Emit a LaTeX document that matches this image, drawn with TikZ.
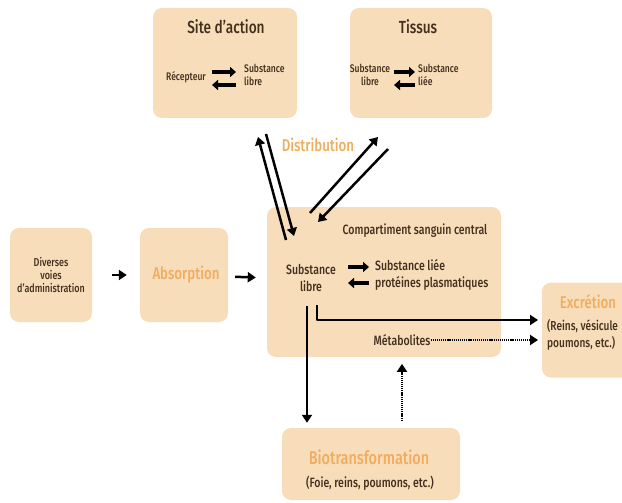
\documentclass[tikz,border=0pt]{standalone}
\usepackage{fontspec}
\setmainfont{Fira Sans Medium}[FakeStretch=0.78]
\usetikzlibrary{arrows.meta}
\definecolor{peche}{RGB}{248,221,187}
\definecolor{ocre}{RGB}{240,172,95}
\definecolor{brun}{RGB}{66,48,30}
\begin{document}
\begin{tikzpicture}[x=1pt,y=-1pt,line join=round,>={Triangle[length=8pt,width=10pt]},
	boite/.style={fill=peche,rounded corners=9pt,inner sep=0pt},
	txt/.style={text=brun,font=\fontsize{11}{13}\selectfont,inner sep=0pt},
	grand/.style={text=brun,font=\fontsize{13.5}{17}\selectfont,inner sep=0pt},
	titre/.style={text=brun,font=\fontsize{17.5}{20}\selectfont,inner sep=0pt},
	etiq/.style={text=ocre,font=\fontsize{17}{19}\selectfont,inner sep=0pt},
	fleche/.style={->,line width=2.5pt},
	pointille/.style={->,line width=2.5pt,dash pattern=on 1.2pt off 0.9pt},
	eq/.style={->,line width=3.5pt,>={Triangle[length=6pt,width=10pt]}}]
	\useasboundingbox (0,0) rectangle (622,503);
	% boites
	\node[boite,minimum width=144pt,minimum height=110pt] (site) at (225,63) {};
	\node[boite,minimum width=142pt,minimum height=110pt] (tissus) at (421,63) {};
	\node[boite,minimum width=82pt,minimum height=94pt] (voies) at (51,275) {};
	\node[boite,minimum width=88pt,minimum height=94pt] (absorp) at (184,275) {};
	\node[boite,minimum width=234pt,minimum height=150pt] (central) at (384,282) {};
	\node[boite,minimum width=96pt,minimum height=95pt] (excr) at (590,330) {};
	\node[boite,minimum width=178pt,minimum height=72pt] (bio) at (371,464) {};
	% site d'action
	\node[titre] (tsite) at (226,27) {Site d'action};
	\node[txt] (recep) at (186,77) {Récepteur};
	\node[txt,align=left,anchor=west] (slibre) at (244,75) {Substance\\libre};
	\draw[eq] (212,72) -- (236,72);
	\draw[eq] (236,85) -- (212,85);
	% tissus
	\node[titre] (ttissus) at (418,27) {Tissus};
	\node[txt,align=center] (tlibre) at (370,75) {Substance\\libre};
	\node[txt,align=left,anchor=west] (tliee) at (418,75) {Substance\\liée};
	\draw[eq] (394,72) -- (415,72);
	\draw[eq] (415,85) -- (394,85);
	% entree
	\node[txt,align=center,font=\fontsize{11.5}{13}\selectfont] (tvoies) at (51,275) {Diverses\\voies\\d'administration};
	\node[etiq] (tabsorp) at (186,275) {Absorption};
	\draw[fleche,shorten <=20pt,shorten >=13pt] (voies) -- (absorp);
	\draw[fleche,shorten <=7pt,shorten >=11pt] (absorp) -- (central);
	% compartiment central
	\node[grand] (tcentral) at (415,231) {Compartiment sanguin central};
	\node[grand,align=center] (libre) at (311,278) {Substance\\libre};
	\node[grand,align=left,anchor=west] (liee) at (375,275) {Substance liée\\protéines plasmatiques};
	\draw[eq] (348,267) -- (369,267);
	\draw[eq] (369,283) -- (348,283);
	% distribution
	\node[etiq] (distrib) at (318,145) {Distribution};
	\coordinate (a1) at (286,240); \coordinate (a2) at (258,137);
	\coordinate (b1) at (266,134); \coordinate (b2) at (294,236);
	\coordinate (c1) at (310,213); \coordinate (c2) at (378,137);
	\coordinate (d1) at (388,149); \coordinate (d2) at (318,222);
	\draw[fleche] (a1) -- (a2);
	\draw[fleche] (b1) -- (b2);
	\draw[fleche] (c1) -- (c2);
	\draw[fleche] (d1) -- (d2);
	% sorties
	\coordinate (v1) at (307,306);
	\coordinate (e1) at (317,305);
	\coordinate (e2) at (538,320);
	\draw[fleche,shorten >=5pt] (v1) -- (v1 |- bio.north);
	\draw[fleche] (e1) |- (e2);
	\node[grand] (meta) at (402,340) {Métabolites};
	\draw[pointille] (meta.east) -- (meta.east -| e2);
	\draw[pointille,shorten <=7pt,shorten >=18pt] (bio.north -| meta) -- (meta.south);
	% excretion et biotransformation
	\node[etiq] (texcr) at (588,302) {Excrétion};
	\node[grand,align=left,anchor=west,font=\fontsize{13}{17}\selectfont] (reins) at (547,335) {(Reins, vésicule\\poumons, etc.)};
	\node[etiq,font=\fontsize{18.5}{20}\selectfont] (tbio) at (369,457) {Biotransformation};
	\node[grand] (foie) at (370,483) {(Foie, reins, poumons, etc.)};
\end{tikzpicture}
\end{document}
